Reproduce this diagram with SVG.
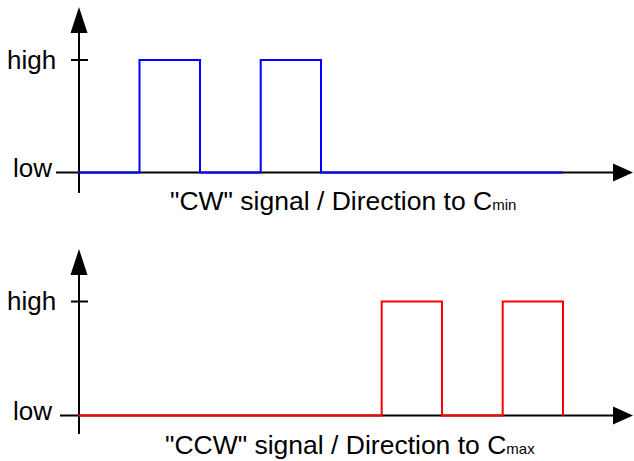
<svg xmlns="http://www.w3.org/2000/svg" width="634" height="461" viewBox="0 0 634 461">
<style>
.ax{stroke:#000;stroke-width:2;fill:none}
.ah{fill:#000;stroke:none}
.cw{stroke:#0000ff;stroke-width:2;fill:none}
.ccw{stroke:#ff0000;stroke-width:2;fill:none}
.lbl{font-family:"Liberation Sans",Arial,sans-serif;font-size:26px;fill:#000}
.cap{font-size:26.5px}
.sub{font-size:15px}
</style>
<rect width="634" height="461" fill="#fff"/>
<g id="top-chart">
  <g id="top-axes">
    <line class="ax" x1="79" y1="30" x2="79" y2="193"/>
    <polygon class="ah" points="79,7 70.5,33 87.5,33"/>
    <line class="ax" x1="56" y1="172.5" x2="615" y2="172.5"/>
    <polygon class="ah" points="633,172.5 613,163.5 613,181.5"/>
    <line class="ax" x1="71" y1="60" x2="88" y2="60"/>
  </g>
  <g id="top-labels">
    <text class="lbl" x="7" y="69">high</text>
    <text class="lbl" x="13" y="177">low</text>
    <text class="lbl cap" x="170" y="210">"CW" signal / Direction to C<tspan class="sub">min</tspan></text>
  </g>
  <g id="cw-signal">
    <polyline class="cw" points="78,172.5 139.5,172.5 139.5,60 200,60 200,172.5 260.7,172.5 260.7,60 321,60 321,172.5 563,172.5"/>
  </g>
</g>
<g id="bottom-chart">
  <g id="bottom-axes">
    <line class="ax" x1="79" y1="272" x2="79" y2="434"/>
    <polygon class="ah" points="79,249 70.5,275 87.5,275"/>
    <line class="ax" x1="60" y1="415.5" x2="615" y2="415.5"/>
    <polygon class="ah" points="633,415.5 613,406.5 613,424.5"/>
    <line class="ax" x1="71" y1="301.5" x2="88" y2="301.5"/>
  </g>
  <g id="bottom-labels">
    <text class="lbl" x="7" y="310">high</text>
    <text class="lbl" x="13" y="420">low</text>
    <text class="lbl cap" x="165" y="454">"CCW" signal / Direction to C<tspan class="sub">max</tspan></text>
  </g>
  <g id="ccw-signal">
    <polyline class="ccw" points="78,415.5 381.7,415.5 381.7,301.5 442,301.5 442,415.5 502.7,415.5 502.7,301.5 563,301.5 563,415.5"/>
  </g>
</g>
</svg>
